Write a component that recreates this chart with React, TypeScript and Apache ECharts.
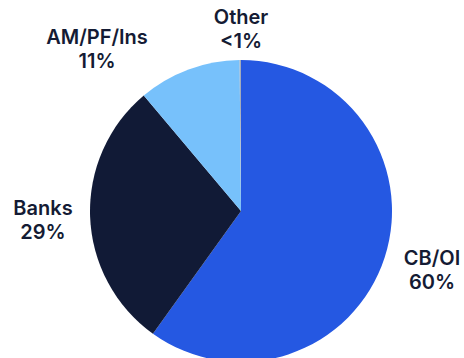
import React, { useEffect, useRef } from "react";
import * as echarts from "echarts";

const categories = ["CB/OI", "Banks", "AM/PF/Ins", "Other"];
const values = [60, 29, 11, 0.15];
const colors = ["#2558e2", "#111a36", "#77c1fb", "#a4acbb"];
const labelPos: [number, number][] = [
  [432, 270],
  [43, 220],
  [97, 49],
  [241, 29],
];

export default function App() {
  const ref = useRef<HTMLDivElement>(null);
  useEffect(() => {
    if (!ref.current) return;
    const chart = echarts.init(ref.current, undefined, { renderer: "svg" });
    chart.setOption({
      animation: false,
      series: [
        {
          type: "pie",
          center: [241, 211],
          radius: [0, 151],
          startAngle: 90,
          clockwise: true,
          data: categories.map((c, i) => ({
            name: c,
            value: values[i],
            itemStyle: { color: colors[i] },
          })),
          itemStyle: { borderWidth: 0 },
          label: {
            show: true,
            position: "outside",
            formatter: (p: any) =>
              p.name + "\n" + (p.value < 1 ? "<1%" : p.value + "%"),
            color: "#141b34",
            fontFamily: "Inter",
            fontWeight: 600,
            fontSize: 20,
            lineHeight: 24,
            align: "center",
            overflow: "none",
            width: 200,
          },
          labelLine: { show: false },
          labelLayout: (p: any) => ({
            x: labelPos[p.dataIndex][0],
            y: labelPos[p.dataIndex][1],
            align: "center",
            verticalAlign: "middle",
          }),
        },
      ],
    });
    return () => chart.dispose();
  }, []);
  return (
    <div
      ref={ref}
      style={{ position: "fixed", left: 0, top: 0, width: 464, height: 358, background: "#fff" }}
    />
  );
}
